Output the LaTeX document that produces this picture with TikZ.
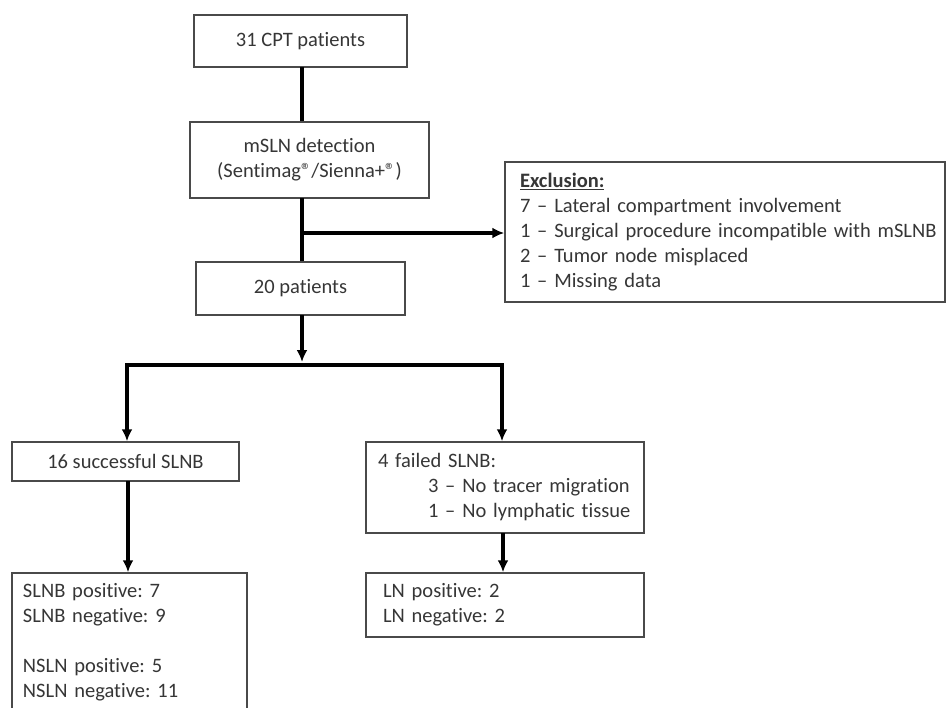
\documentclass[tikz,border=0pt]{standalone}
\usepackage{fontspec}
\setmainfont{Carlito}[Ligatures={NoCommon}]
\usetikzlibrary{arrows.meta}
\definecolor{txt}{HTML}{363636}
\definecolor{frame}{HTML}{4A4A4A}
\frenchspacing
\begin{document}
\begin{tikzpicture}[x=1pt,y=-1pt,
  box/.style={draw=frame, line width=1.5pt, rectangle, inner ysep=0pt, text=txt,
    font=\fontsize{20.5}{25}\selectfont\frenchspacing},
  cbox/.style={box, align=center, inner xsep=0pt},
  lbox/.style={box, align=left},
  conn/.style={line width=3.5pt, black},
  arr/.style={conn, -{Latex[length=12pt,width=11pt]}}
]
\useasboundingbox[fill=white] (0,0) rectangle (947,707);

\node[cbox, minimum width=213pt, minimum height=52pt] (b1) at (300.5,41) {31 CPT patients};
\node[cbox, minimum width=239pt, minimum height=76pt] (b2) at (309.5,160)
  {mSLN detection\\(Sentimag®/Sienna+®)};
\node[cbox, minimum width=209pt, minimum height=53pt] (b3) at (300.5,288.5) {20 patients};
\node[lbox, inner xsep=15pt, text width=410pt, minimum height=140pt] (ex) at (725,232)
  {\underline{\textbf{Exclusion:}}\\
   7 – Lateral compartment\ involvement\\
   \makebox[0pt][l]{1 – Surgical procedure\ incompatible with mSLNB}\\
   2 – Tumor node misplaced\\
   1 – Missing data};
\node[cbox, minimum width=227pt, minimum height=39pt] (s16) at (125.5,461.5) {16 successful SLNB};
\node[lbox, inner xsep=12pt, text width=254pt, minimum height=91pt] (fail) at (505,487.5)
  {4 failed SLNB:\\
   \hspace*{50pt}3 – No tracer migration\\
   \hspace*{50pt}1 – No lymphatic tissue};
\node[lbox, inner xsep=11pt, text width=213pt, minimum height=139pt] (sres) at (129.5,642.5)
  {SLNB positive: 7\\SLNB negative: 9\\[25pt]NSLN positive: 5\\NSLN negative: 11};
\node[lbox, inner xsep=17pt, text width=244pt, minimum height=64pt] (ln) at (505,605)
  {LN positive: 2\\LN negative: 2};

% connectors
\coordinate (c1) at (302,67);
\draw[conn] (c1) -- (c1 |- b2.north);
\coordinate (c2) at (302,198);
\draw[conn] (c2) -- (c2 |- b3.north);
\coordinate (j) at (302,233);
\draw[arr] (j) -- (j -| ex.west);
\coordinate (c3) at (302,315);
\coordinate (bar) at (302,362);
\draw[arr] (c3) -- (bar);
\coordinate (bl) at (127,365);
\coordinate (br) at (502,365);
\draw[line width=4pt, black] ([xshift=-1.75pt]bl) -- ([xshift=1.75pt]br);
\draw[arr] (bl) -- (bl |- s16.north);
\draw[arr] (br) -- (br |- fail.north);
\coordinate (c4) at (128,481);
\draw[arr] (c4) -- (c4 |- sres.north);
\coordinate (c5) at (503,533);
\draw[arr] (c5) -- (c5 |- ln.north);
\end{tikzpicture}
\end{document}
